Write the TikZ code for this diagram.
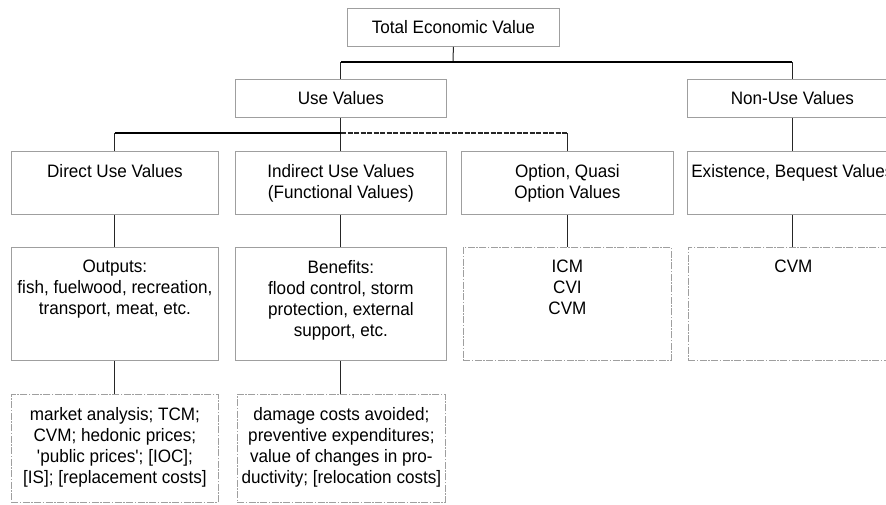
\documentclass[tikz,border=0pt]{standalone}
\usepackage{fontspec}
\setmainfont{Liberation Sans}[FakeStretch=0.95]
\begin{document}
\begin{tikzpicture}[x=1pt,y=-1pt,
  box/.style={draw=gray!75, line width=0.8pt, anchor=north west, inner sep=0pt},
  dbox/.style={draw=gray!75, line width=0.8pt, anchor=north west, inner sep=0pt,
    dash pattern=on 7pt off 1.5pt on 1.5pt off 1.5pt},
  txt/.style={anchor=north, align=center, inner sep=0pt,
    font=\fontsize{18}{21}\selectfont},
  ctxt/.style={align=center, inner sep=0pt, font=\fontsize{18}{21}\selectfont},
  conn/.style={draw=black!85, line width=1pt},
  hconn/.style={draw=black, line width=1.3pt}]
\clip (0,0) rectangle (886,504);
\fill[white] (0,0) rectangle (886,504);
% level 0
\node[box, minimum width=212pt, minimum height=38pt] (tev) at (347,8) {};
\node[ctxt] (tevt) at (tev.center) {Total Economic Value};
% level 1
\node[box, minimum width=211pt, minimum height=38pt] (use) at (235,79) {};
\node[ctxt] (uset) at (use.center) {Use Values};
\node[box, minimum width=210pt, minimum height=38pt] (nonuse) at (687,79) {};
\node[ctxt] (nonuset) at (nonuse.center) {Non-Use Values};
% level 2
\node[box, minimum width=207pt, minimum height=63pt] (direct) at (11,151) {};
\node[txt] (directt) at ([yshift=-13pt]direct.north) {Direct Use Values};
\node[box, minimum width=211pt, minimum height=63pt] (indirect) at (235,151) {};
\node[txt] (indirectt) at ([yshift=-13pt]indirect.north) {Indirect Use Values\\(Functional Values)};
\node[box, minimum width=212pt, minimum height=63pt] (option) at (461,151) {};
\node[txt] (optiont) at ([yshift=-13pt]option.north) {Option, Quasi\\Option Values};
\node[box, minimum width=210pt, minimum height=63pt] (exist) at (687,151) {};
\node[txt] (existt) at ([yshift=-13pt]exist.north) {Existence, Bequest Values};
% level 3
\node[box, minimum width=207pt, minimum height=113pt] (outputs) at (11,247) {};
\node[txt] (outputst) at ([yshift=-13pt]outputs.north) {Outputs:\\fish, fuelwood, recreation,\\transport, meat, etc.};
\node[box, minimum width=211pt, minimum height=113pt] (benefits) at (235,247) {};
\node[txt] (benefitst) at ([yshift=-13pt]benefits.north) {Benefits:\\flood control, storm\\protection, external\\support, etc.};
\node[dbox, minimum width=208pt, minimum height=113pt] (icm) at (463,247) {};
\node[txt] (icmt) at ([yshift=-13pt]icm.north) {ICM\\CVI\\CVM};
\node[dbox, minimum width=210pt, minimum height=113pt] (cvm) at (688,247) {};
\node[txt] (cvmt) at ([yshift=-13pt]cvm.north) {CVM};
% level 4
\node[dbox, minimum width=207pt, minimum height=108pt] (market) at (11,394) {};
\node[txt] (marketht) at ([yshift=-13pt]market.north) {market analysis; TCM;\\CVM; hedonic prices;\\\textquotesingle public prices\textquotesingle; [IOC];\\{}[IS]; [replacement costs]};
\node[dbox, minimum width=208pt, minimum height=108pt] (damage) at (237,394) {};
\node[txt] (damaget) at ([yshift=-13pt]damage.north) {damage costs avoided;\\preventive expenditures;\\value of changes in pro-\\ductivity; [relocation costs]};
% connectors
\coordinate (j1) at (453,62);
\coordinate (j2) at (341,133);
\draw[conn] (tev.south) -- (j1);
\draw[hconn] (use.north |- j1) -- (nonuse.north |- j1);
\draw[conn] (nonuse.north |- j1) -- (nonuse.north);
\draw[conn] (use.north) -- (use.north |- j1);
\draw[conn] (use.south) -- (indirect.north);
\draw[hconn] (direct.north |- j2) -- (j2);
\draw[conn] (direct.north |- j2) -- (direct.north);
\draw[draw=black!85, line width=1.1pt, dash pattern=on 5pt off 1.5pt] (j2) -- (option.north |- j2);
\draw[conn] (option.north |- j2) -- (option.north);
\draw[conn] (nonuse.south) -- (exist.north);
\draw[conn] (direct.south) -- (outputs.north);
\draw[conn] (indirect.south) -- (benefits.north);
\draw[conn] (option.south) -- (option.south |- icm.north);
\draw[conn] (exist.south) -- (exist.south |- cvm.north);
\draw[conn] (outputs.south) -- (outputs.south |- market.north);
\draw[conn] (benefits.south) -- (benefits.south |- damage.north);
\end{tikzpicture}
\end{document}
